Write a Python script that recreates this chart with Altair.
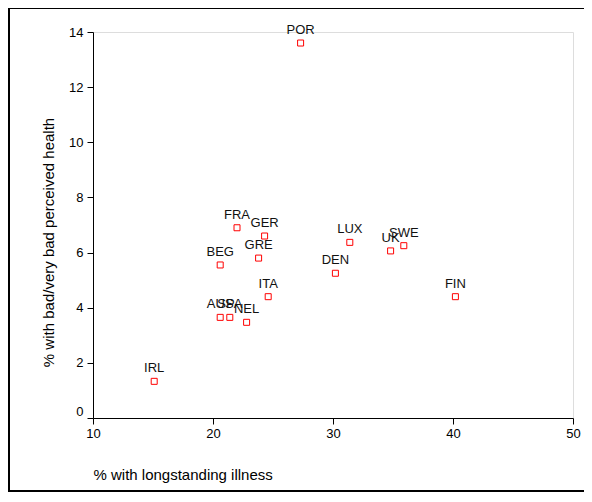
import altair as alt
import pandas as pd

countries = ["POR", "FRA", "GER", "GRE", "BEG", "ITA", "AUS", "SPA", "NEL",
             "LUX", "UK", "SWE", "DEN", "FIN", "IRL"]
illness = [27.3, 22.0, 24.3, 23.8, 20.6, 24.6, 20.6, 21.4, 22.8,
           31.4, 34.8, 35.9, 30.2, 40.2, 15.1]
bad_health = [13.6, 6.9, 6.6, 5.8, 5.55, 4.4, 3.65, 3.65, 3.47,
              6.37, 6.06, 6.25, 5.25, 4.4, 1.33]
x_ticks = [10, 20, 30, 40, 50]
y_ticks = [0, 2, 4, 6, 8, 10, 12, 14]

df = pd.DataFrame({"country": countries, "illness": illness, "bad": bad_health})

FONT = "Liberation Sans"

x_enc = alt.X(
    "illness:Q",
    scale=alt.Scale(domain=[10, 50], nice=False, zero=False),
    axis=alt.Axis(
        values=x_ticks, title="% with longstanding illness", grid=False,
        tickSize=6, labelPadding=3, labelFontSize=13, titleFontSize=15,
        labelFlush=False,
        titleAlign="left", titleX=0, titleY=61, titleBaseline="alphabetic",
        titleFontWeight="normal", domainColor="black", tickColor="black",
        labelColor="black", titleColor="black", labelFont=FONT, titleFont=FONT,
    ),
)
y_enc = alt.Y(
    "bad:Q",
    scale=alt.Scale(domain=[0, 14], nice=False, zero=True),
    axis=alt.Axis(
        values=y_ticks, title="% with bad/very bad perceived health", grid=False,
        tickSize=6, labelPadding=4, labelFontSize=13, titleFontSize=15,
        labelFlush=False,
        titleAngle=-90, titleAlign="center", titleX=-40, titleY=210,
        titleBaseline="alphabetic", titleFontWeight="normal",
        domainColor="black", tickColor="black", labelColor="black",
        titleColor="black", labelFont=FONT, titleFont=FONT,
        labelOffset={"condition": {"test": "datum.value == 0", "value": -7}, "value": 0},
    ),
)

points = alt.Chart(df).mark_point(
    shape="square", size=36, filled=False, color="red", strokeWidth=1, opacity=1
).encode(x=x_enc, y=y_enc)

labels = alt.Chart(df).mark_text(
    baseline="alphabetic", align="center", dy=-9, fontSize=13, font=FONT, color="#111111"
).encode(x="illness:Q", y="bad:Q", text="country:N")

frame = alt.Chart(pd.DataFrame({"a": [0]})).mark_rect(
    filled=False, stroke="black", strokeWidth=2, clip=False
).encode(x=alt.value(-84), x2=alt.value(560), y=alt.value(-24), y2=alt.value(459))

chart = alt.layer(frame, points, labels).properties(
    width=480, height=386,
    autosize=alt.AutoSizeParams(type="none"),
    padding={"left": 85, "top": 24, "right": 11, "bottom": 74},
).configure_view(stroke="black", strokeWidth=1).configure(font=FONT)

chart.save("out.html", embed_options={"renderer": "svg", "actions": False})
